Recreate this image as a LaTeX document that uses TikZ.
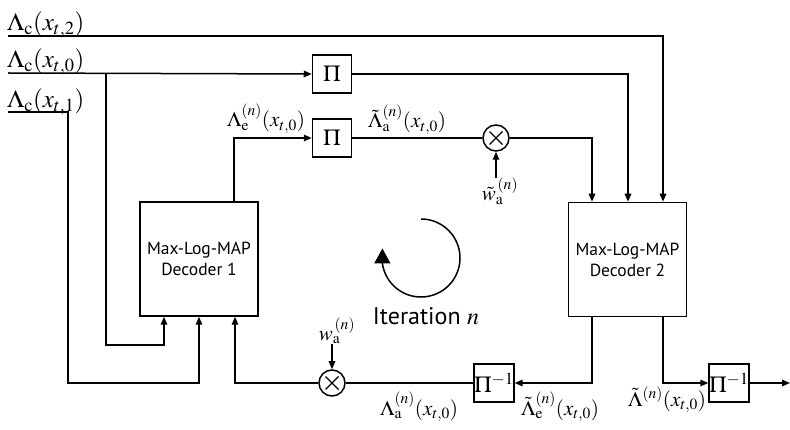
\documentclass[tikz,border=0pt]{standalone}
\usepackage{mathptmx}
\usepackage[no-math]{fontspec}
\setsansfont{PT Sans}
\usetikzlibrary{arrows.meta,calc}
\tikzset{
  wire/.style={line width=1.5pt},
  arr/.style={wire,-{Triangle[length=8pt,width=6.5pt]}},
  blk/.style={draw,line width=1.5pt,minimum width=118pt,minimum height=114pt,inner sep=0pt,
    font=\sffamily\fontsize{17.5}{21}\selectfont,align=center},
  pibox/.style={draw,line width=1.5pt,minimum width=39pt,minimum height=38pt,inner sep=0pt,
    font=\fontsize{23}{25}\selectfont},
  mul/.style={circle,draw,line width=1.5pt,minimum size=26pt,inner sep=0pt,
    path picture={\draw[line width=1.2pt] ($(path picture bounding box.center)+(-6.5pt,-6.5pt)$) -- ($(path picture bounding box.center)+(6.5pt,6.5pt)$)
      ($(path picture bounding box.center)+(-6.5pt,6.5pt)$) -- ($(path picture bounding box.center)+(6.5pt,-6.5pt)$);}},
  biglbl/.style={inner sep=0pt,font=\fontsize{25}{27}\selectfont},
  lbl/.style={inner sep=0pt,font=\fontsize{21}{23}\selectfont},
}
\begin{document}
\begin{tikzpicture}[x=1pt,y=-1pt]
\useasboundingbox (0,0) rectangle (790,430);
% blocks
\node[blk] (dec1) at (199,259) {Max-Log-MAP\\Decoder 1};
\node[blk] (dec2) at (627.5,259.5) {Max-Log-MAP\\Decoder 2};
\node[pibox] (pi1) at (332,74) {$\Pi$};
\node[pibox] (pi2) at (332,138) {$\Pi$};
\node[mul] (mult1) at (496,138) {};
\node[mul] (mult2) at (332,383) {};
\node[pibox] (pinv1) at (494,383) {$\Pi^{-1}$};
\node[pibox] (pinv2) at (729,383) {$\Pi^{-1}$};
% inputs
\coordinate (in2) at (8,36);
\coordinate (in0) at (8,73);
\coordinate (in1) at (8,112);
\coordinate (b0) at (106,73);
\coordinate (out) at (790,383);
\node[biglbl,anchor=base west] (l2) at (7,31) {$\Lambda_{\mathrm c}(x_{t,2})$};
\node[biglbl,anchor=base west] (l0) at (7,68) {$\Lambda_{\mathrm c}(x_{t,0})$};
\node[biglbl,anchor=base west] (l1) at (7,108) {$\Lambda_{\mathrm c}(x_{t,1})$};
% connections
\draw[arr] (in2) -| ([xshift=35.5pt]dec2.north);
\draw[arr] (in0) -- (pi1.west);
\draw[arr] (b0) -- (106,345) -| ([xshift=-35pt]dec1.south);
\draw[arr] (pi1.east) -| ([xshift=0.5pt]dec2.north);
\draw[arr] (in1) -- (68,112) -- (68,383) -| (dec1.south);
\draw[arr] ([xshift=35pt]dec1.north) |- (pi2.west);
\draw[wire] (pi2) -- (mult1);
\draw[arr] (mult1.east) -| ([xshift=-35.5pt]dec2.north);
\draw[arr] ([xshift=-35.5pt]dec2.south) |- (pinv1.east);
\draw[wire] (pinv1) -- (mult2);
\draw[arr] (mult2.west) -| ([xshift=36pt]dec1.south);
\draw[arr] ([xshift=35.5pt]dec2.south) |- (pinv2.west);
\draw[arr] (pinv2) -- (out);
% weights
\node[lbl,anchor=north] (wt) at (500,178) {$\tilde w_{\mathrm a}^{\,(n)}$};
\draw[arr] (wt.north -| mult1) -- (mult1.south);
\node[lbl,anchor=south] (wa) at (337,344) {$w_{\mathrm a}^{\,(n)}$};
\draw[arr] (wa.south -| mult2) -- (mult2.north);
% labels
\node[lbl,anchor=base west] (le) at (227,127) {$\Lambda_{\mathrm e}^{(n)}(x_{t,0})$};
\node[lbl,anchor=base west] (lat) at (368,128) {$\tilde\Lambda_{\mathrm a}^{(n)}(x_{t,0})$};
\node[lbl,anchor=base west] (la) at (380,415) {$\Lambda_{\mathrm a}^{(n)}(x_{t,0})$};
\node[lbl,anchor=base west] (let) at (521,415) {$\tilde\Lambda_{\mathrm e}^{(n)}(x_{t,0})$};
\node[lbl,anchor=base west] (lt) at (628,406) {$\tilde\Lambda^{(n)}(x_{t,0})$};
% iteration
\draw[line width=1.5pt,-{Triangle[length=15pt,width=16pt]}] (421,219) arc[start angle=270, end angle=532, radius=39] -- ++(0,-15);
\node[inner sep=0pt,font=\sffamily\fontsize{24}{26}\selectfont] (it) at (426,316) {Iteration $n$};
\end{tikzpicture}
\end{document}
